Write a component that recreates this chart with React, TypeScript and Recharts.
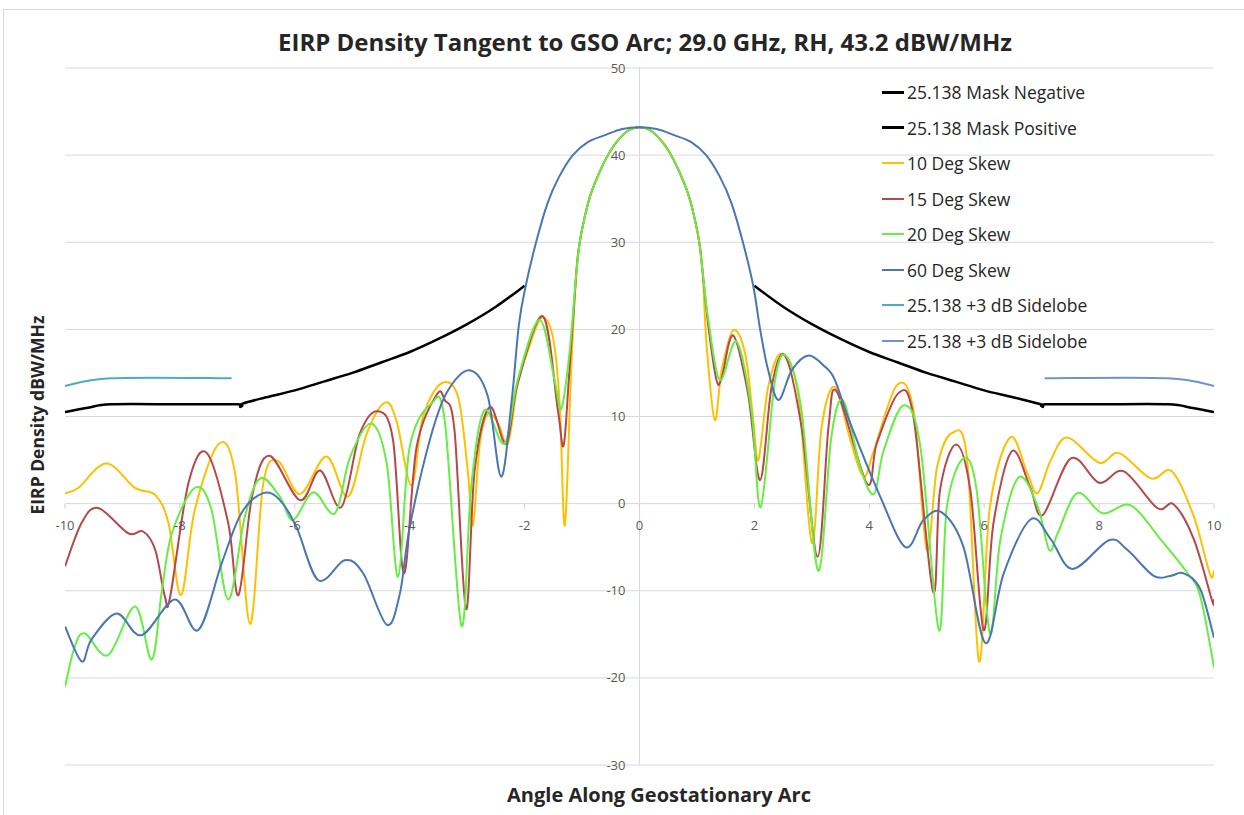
import { LineChart, Line, XAxis, YAxis, CartesianGrid, ReferenceLine } from 'recharts'

const FONT = '"Open Sans", "Liberation Sans", sans-serif'

const X_TICKS = [-10, -8, -6, -4, -2, 0, 2, 4, 6, 8, 10]
const Y_TICKS = [-30, -20, -10, 0, 10, 20, 30, 40, 50]

// [angle deg, EIRP density dBW/MHz]
const MASK_NEGATIVE: [number, number][] = [
  [-10, 10.5], [-9.6, 11.0], [-9.2, 11.4], [-8, 11.4], [-7.0, 11.4], [-6.95, 11.1], [-6.9, 11.5],
  [-6.5, 12.2], [-6, 13.0], [-5.5, 14.0], [-5, 15.0], [-4.5, 16.2], [-4, 17.4], [-3.5, 18.9],
  [-3, 20.6], [-2.5, 22.6], [-2, 25.0],
]

const MASK_POSITIVE: [number, number][] = [
  [2, 25.0], [2.5, 22.6], [3, 20.6], [3.5, 18.9], [4, 17.4], [4.5, 16.2], [5, 15.0], [5.5, 14.0],
  [6, 13.0], [6.5, 12.2], [6.98, 11.4], [7.02, 11.1], [7.07, 11.4], [8, 11.4], [9.2, 11.4],
  [9.6, 11.0], [10, 10.5],
]

const SKEW_10: [number, number][] = [
  [-10, 1.2], [-9.77, 1.8], [-9.28, 4.6], [-8.78, 1.8], [-8.43, 1.0], [-8.2, -2.2], [-7.98, -10.5],
  [-7.74, -0.7], [-7.33, 6.8], [-7.04, 3.5], [-6.78, -13.8], [-6.55, 2.3], [-6.29, 4.9],
  [-5.91, 1.1], [-5.45, 5.4], [-5.07, 0.8], [-4.75, 8.0], [-4.43, 11.6], [-4.23, 9.5],
  [-3.97, 2.1], [-3.77, 9.9], [-3.45, 13.8], [-3.16, 12.3], [-2.99, 3.8], [-2.9, -2.5],
  [-2.78, 6.9], [-2.64, 10.3], [-2.46, 9.2], [-2.29, 6.9], [-2.12, 13.8], [-1.94, 17.6],
  [-1.71, 21.3], [-1.51, 19.2], [-1.39, 11.5], [-1.3, -2.5], [-1.19, 15.3], [-1.1, 26.5],
  [-1.04, 30.0], [-0.95, 33.0], [-0.85, 35.5], [-0.7, 38.0], [-0.55, 40.0], [-0.4, 41.5],
  [-0.2, 42.8], [0, 43.2], [0.2, 42.8], [0.4, 41.5], [0.55, 40.0], [0.7, 38.0], [0.85, 35.5],
  [0.95, 33.0], [1.04, 30.0], [1.1, 26.5], [1.17, 18.0], [1.31, 9.6], [1.43, 15.3], [1.63, 19.9],
  [1.84, 17.2], [1.98, 9.6], [2.07, 5.0], [2.24, 13.4], [2.47, 17.2], [2.76, 12.6], [3.0, -4.5],
  [3.17, 8.8], [3.4, 13.4], [3.67, 7.3], [3.9, 3.1], [4.08, 6.1], [4.48, 13.6], [4.77, 10.7],
  [5.0, -5.3], [5.18, 4.2], [5.44, 8.1], [5.7, 5.3], [5.91, -18.1], [6.1, -0.4], [6.45, 7.6],
  [6.75, 3.5], [6.93, 1.2], [7.16, 5.0], [7.45, 7.6], [8.0, 4.7], [8.35, 5.8], [8.9, 2.9],
  [9.27, 3.7], [9.65, -1.5], [9.93, -8.1], [10, -7.7],
]

const SKEW_15: [number, number][] = [
  [-10, -7.2], [-9.71, -2.2], [-9.42, -0.5], [-8.9, -3.4], [-8.64, -3.2], [-8.43, -5.3],
  [-8.26, -10.7], [-8.17, -10.7], [-7.85, 2.4], [-7.53, 5.8], [-7.16, -2.2], [-6.98, -10.5],
  [-6.74, 1.0], [-6.44, 5.5], [-5.91, 0.4], [-5.56, 3.8], [-5.19, -0.4], [-4.87, 8.0],
  [-4.55, 10.6], [-4.29, 7.3], [-4.1, -8.0], [-3.88, 6.5], [-3.53, 12.5], [-3.39, 11.9],
  [-3.22, 8.4], [-3.02, -12.1], [-2.87, 3.8], [-2.61, 11.1], [-2.32, 6.9], [-2.12, 13.8],
  [-1.68, 21.5], [-1.42, 10.7], [-1.32, 6.7], [-1.22, 15.3], [-1.1, 26.5], [-1.04, 30.0],
  [-0.95, 33.0], [-0.85, 35.5], [-0.7, 38.0], [-0.55, 40.0], [-0.4, 41.5], [-0.2, 42.8],
  [0, 43.2], [0.2, 42.8], [0.4, 41.5], [0.55, 40.0], [0.7, 38.0], [0.85, 35.5], [0.95, 33.0],
  [1.04, 30.0], [1.1, 26.5], [1.2, 20.3], [1.34, 14.2], [1.43, 14.4], [1.63, 19.3], [1.89, 12.6],
  [2.1, 2.7], [2.3, 13.4], [2.53, 17.0], [2.82, 8.8], [3.1, -6.1], [3.29, 8.8], [3.44, 12.8],
  [3.96, 2.3], [4.13, 6.9], [4.51, 12.7], [4.77, 9.9], [5.11, -10.1], [5.23, 1.5], [5.51, 6.8],
  [5.76, 1.5], [5.99, -14.5], [6.16, -2.3], [6.48, 6.0], [6.8, 1.9], [7.02, -1.3], [7.51, 5.2],
  [8.0, 2.4], [8.43, 3.7], [9.01, -0.5], [9.3, -0.1], [9.65, -4.1], [9.97, -11.2], [10, -11.0],
]

const SKEW_20: [number, number][] = [
  [-10, -21.0], [-9.83, -16.4], [-9.65, -14.9], [-9.25, -17.4], [-8.78, -11.8], [-8.49, -17.9],
  [-8.32, -10.3], [-8.14, -3.4], [-7.74, 1.8], [-7.45, -0.7], [-7.16, -11.0], [-6.87, -1.5],
  [-6.6, 2.9], [-6.26, 0.8], [-6.03, -1.9], [-5.68, 1.3], [-5.3, -1.1], [-5.04, 5.3],
  [-4.67, 9.2], [-4.4, 4.6], [-4.2, -8.4], [-4.0, 6.5], [-3.62, 11.5], [-3.39, 9.5],
  [-3.1, -14.0], [-2.93, 1.9], [-2.7, 10.7], [-2.35, 6.9], [-2.12, 14.2], [-1.74, 21.1],
  [-1.48, 14.2], [-1.36, 10.9], [-1.22, 17.2], [-1.1, 26.5], [-1.04, 30.0], [-0.95, 33.0],
  [-0.85, 35.5], [-0.7, 38.0], [-0.55, 40.0], [-0.4, 41.5], [-0.2, 42.8], [0, 43.2], [0.2, 42.8],
  [0.4, 41.5], [0.55, 40.0], [0.7, 38.0], [0.85, 35.5], [0.95, 33.0], [1.04, 30.0], [1.1, 26.5],
  [1.2, 21.0], [1.4, 14.2], [1.69, 18.6], [1.95, 10.7], [2.11, -0.4], [2.36, 14.2], [2.56, 16.9],
  [2.82, 10.7], [3.11, -7.7], [3.34, 7.7], [3.55, 11.8], [3.84, 4.2], [4.08, 1.1], [4.25, 6.1],
  [4.6, 11.3], [4.89, 6.5], [5.21, -14.5], [5.35, -0.4], [5.64, 5.2], [5.87, 1.5], [6.1, -14.9],
  [6.28, -4.2], [6.6, 3.0], [6.93, -0.3], [7.13, -5.3], [7.28, -3.4], [7.62, 1.2], [8.06, -1.1],
  [8.55, -0.2], [9.07, -4.1], [9.53, -7.9], [9.76, -10.6], [10, -18.8],
]

const SKEW_60: [number, number][] = [
  [-10, -14.1], [-9.71, -18.1], [-9.54, -15.6], [-9.1, -12.6], [-8.67, -15.1], [-8.09, -11.0],
  [-7.68, -14.5], [-7.27, -6.8], [-6.93, -1.1], [-6.55, 1.2], [-6.26, 0.4], [-5.97, -2.7],
  [-5.59, -8.8], [-5.13, -6.5], [-4.81, -8.0], [-4.4, -13.9], [-4.17, -10.3], [-4.0, -2.7],
  [-3.65, 7.3], [-3.35, 12.8], [-2.96, 15.3], [-2.64, 12.3], [-2.41, 3.1], [-2.23, 11.5],
  [-2.1, 20.5], [-1.98, 25.0], [-1.8, 30.0], [-1.6, 34.5], [-1.4, 37.5], [-1.16, 40.0],
  [-0.9, 41.5], [-0.6, 42.3], [-0.3, 43.0], [0, 43.2], [0.3, 43.0], [0.6, 42.3], [0.9, 41.5],
  [1.16, 40.0], [1.4, 37.5], [1.6, 34.5], [1.8, 30.0], [1.98, 25.0], [2.1, 20.0], [2.24, 15.3],
  [2.42, 11.9], [2.65, 15.3], [2.94, 17.0], [3.23, 15.7], [3.4, 14.2], [3.67, 9.2], [4.19, 0.8],
  [4.63, -5.0], [4.94, -1.9], [5.26, -1.0], [5.64, -5.0], [6.02, -16.0], [6.34, -8.0],
  [6.81, -1.8], [7.16, -4.1], [7.54, -7.5], [8.17, -4.2], [8.49, -5.3], [8.95, -8.3],
  [9.24, -8.3], [9.47, -8.0], [9.76, -9.8], [10, -15.4],
]

const SIDELOBE_NEG: [number, number][] = [[-10, 13.5], [-9.2, 14.4], [-7.1, 14.4]]
const SIDELOBE_POS: [number, number][] = [[7.05, 14.4], [9.2, 14.4], [10, 13.5]]

const SERIES = [
  { name: '25.138 Mask Negative', points: MASK_NEGATIVE, color: '#000000', width: 2.5 },
  { name: '25.138 Mask Positive', points: MASK_POSITIVE, color: '#000000', width: 2.5 },
  { name: '10 Deg Skew', points: SKEW_10, color: '#FFC000', width: 2 },
  { name: '15 Deg Skew', points: SKEW_15, color: '#B8474A', width: 2 },
  { name: '20 Deg Skew', points: SKEW_20, color: '#66EE44', width: 2 },
  { name: '60 Deg Skew', points: SKEW_60, color: '#4A76B5', width: 2 },
  { name: '25.138 +3 dB Sidelobe', points: SIDELOBE_NEG, color: '#4BACC6', width: 2 },
  { name: '25.138 +3 dB Sidelobe', points: SIDELOBE_POS, color: '#6F93CF', width: 2 },
]

// Excel-like smoothed line (cardinal / Catmull-Rom bezier)
const smoothCurve = (context: any) => {
  let pts: [number, number][] = []
  return {
    areaStart() {},
    areaEnd() {},
    lineStart() {
      pts = []
    },
    point(x: number, y: number) {
      pts.push([x, y])
    },
    lineEnd() {
      const n = pts.length
      if (!n) return
      context.moveTo(pts[0][0], pts[0][1])
      for (let i = 0; i < n - 1; i++) {
        const p0 = pts[Math.max(0, i - 1)]
        const p1 = pts[i]
        const p2 = pts[i + 1]
        const p3 = pts[Math.min(n - 1, i + 2)]
        context.bezierCurveTo(
          p1[0] + (p2[0] - p0[0]) / 6,
          p1[1] + (p2[1] - p0[1]) / 6,
          p2[0] - (p3[0] - p1[0]) / 6,
          p2[1] - (p3[1] - p1[1]) / 6,
          p2[0],
          p2[1],
        )
      }
    },
  }
}

const W = 1244
const H = 815
const M = { top: 68, right: 30, bottom: 20, left: 25 }
const PLOT_L = 65
const PLOT_B = 765
const ZERO_X = PLOT_L + (W - M.right - PLOT_L) * 0.5
const ZERO_Y = M.top + (PLOT_B - M.top) * (50 / 80)

const XTick = (props: any) => {
  const { x, payload } = props
  return (
    <g>
      <line x1={x} x2={x} y1={ZERO_Y} y2={ZERO_Y + 5} stroke="#d0d0d0" />
      <text x={x} y={ZERO_Y + 26} textAnchor="middle" fontSize={13} fill="#595959" fontFamily={FONT}>
        {payload.value}
      </text>
    </g>
  )
}

const YTick = (props: any) => {
  const { y, payload } = props
  return (
    <text x={ZERO_X - 14} y={y + 4.5} textAnchor="end" fontSize={13} fill="#595959" fontFamily={FONT}>
      {payload.value}
    </text>
  )
}

export default function App() {
  return (
    <div style={{ position: 'absolute', left: 0, top: 0, width: W, height: H, overflow: 'hidden', background: '#fff', fontFamily: FONT }}>
      <div style={{ position: 'absolute', left: 3, top: 9, width: W + 20, height: H + 20, border: '1px solid #d9d9d9' }} />
      <div style={{ position: 'absolute', left: 0, width: 1290, top: 25, textAlign: 'center', fontSize: 24, fontWeight: 700, color: '#262626' }}>
        EIRP Density Tangent to GSO Arc; 29.0 GHz, RH, 43.2 dBW/MHz
      </div>
      <div style={{ position: 'absolute', left: 0, width: 1318, top: 781, textAlign: 'center', fontSize: 20, fontWeight: 700, color: '#262626' }}>
        Angle Along Geostationary Arc
      </div>
      <div style={{ position: 'absolute', left: 37, top: 415, transform: 'translate(-50%, -50%) rotate(-90deg)', whiteSpace: 'nowrap', fontSize: 17.5, fontWeight: 700, color: '#262626' }}>
        EIRP Density dBW/MHz
      </div>
      <div style={{ position: 'absolute', left: 0, top: 0 }}>
        <LineChart width={W} height={H} margin={M}>
          <CartesianGrid vertical={false} stroke="#d9d9d9" />
          <XAxis
            dataKey="x"
            type="number"
            domain={[-10, 10]}
            ticks={X_TICKS}
            allowDataOverflow
            height={30}
            axisLine={false}
            tickLine={false}
            tick={<XTick />}
            interval={0}
          />
          <YAxis
            type="number"
            domain={[-30, 50]}
            ticks={Y_TICKS}
            width={40}
            axisLine={false}
            tickLine={false}
            tick={<YTick />}
            interval={0}
          />
          <ReferenceLine x={0} stroke="#d9d9d9" />
          {SERIES.map((s, i) => (
            <Line
              key={i}
              data={s.points.map(([x, y]) => ({ x, y }))}
              dataKey="y"
              name={s.name}
              type={smoothCurve as any}
              stroke={s.color}
              strokeWidth={s.width}
              dot={false}
              activeDot={false}
              isAnimationActive={false}
            />
          ))}
        </LineChart>
      </div>
      {SERIES.map((s, i) => (
        <div key={i} style={{ position: 'absolute', left: 882, top: 80 + i * 35.5, height: 24, display: 'flex', alignItems: 'center', fontSize: 17.5, color: '#262626', whiteSpace: 'nowrap' }}>
          <span style={{ display: 'inline-block', width: 22, height: i < 2 ? 3 : 2, background: s.color, marginRight: 3 }} />
          {s.name}
        </div>
      ))}
    </div>
  )
}
